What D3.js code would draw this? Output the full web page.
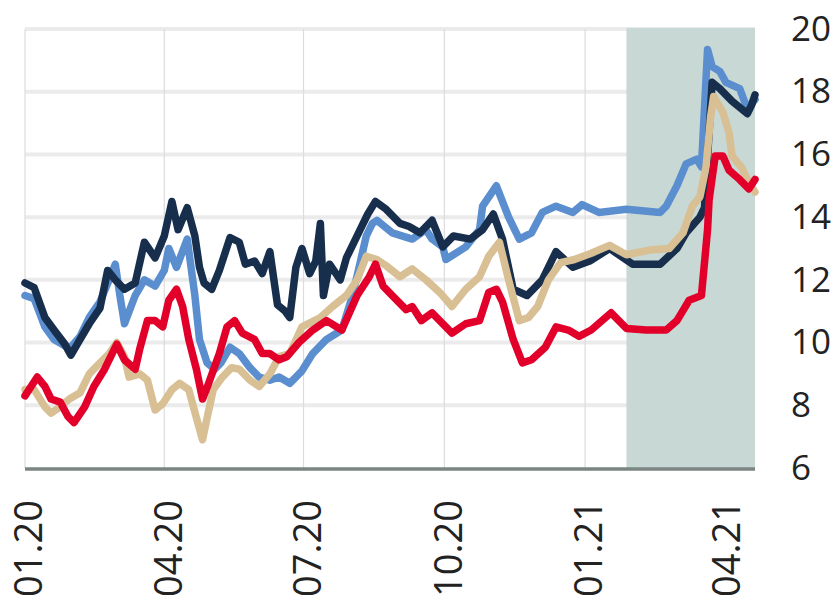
<!DOCTYPE html>
<html>
<head>
<meta charset="utf-8">
<script src="https://cdn.jsdelivr.net/npm/d3@7"></script>
<style>
  body { margin: 0; background: #fff; }
  svg { display: block; }
</style>
</head>
<body>
<svg id="chart" width="837" height="608"></svg>
<script>
// values, [date, value]
var navy = [
  ["2020-01-01", 11.9], ["2020-01-07", 11.75], ["2020-01-14", 10.8], ["2020-01-20", 10.4],
  ["2020-01-27", 9.95], ["2020-01-31", 9.6], ["2020-02-06", 10.1], ["2020-02-12", 10.6],
  ["2020-02-19", 11.1], ["2020-02-24", 12.3], ["2020-02-29", 12.0], ["2020-03-06", 11.7],
  ["2020-03-13", 11.9], ["2020-03-19", 13.2], ["2020-03-26", 12.7], ["2020-04-01", 13.4],
  ["2020-04-06", 14.5], ["2020-04-10", 13.6], ["2020-04-16", 14.3], ["2020-04-21", 13.4],
  ["2020-04-24", 12.4], ["2020-04-27", 11.9], ["2020-05-02", 11.7], ["2020-05-07", 12.3],
  ["2020-05-14", 13.35], ["2020-05-20", 13.2], ["2020-05-24", 12.5], ["2020-05-30", 12.6],
  ["2020-06-04", 12.2], ["2020-06-09", 12.9], ["2020-06-14", 11.2], ["2020-06-19", 11.0],
  ["2020-06-22", 10.8], ["2020-06-26", 12.4], ["2020-06-30", 13.0], ["2020-07-05", 12.2],
  ["2020-07-09", 12.6], ["2020-07-12", 13.8], ["2020-07-14", 11.5], ["2020-07-18", 12.5],
  ["2020-07-25", 12.0], ["2020-07-29", 12.7], ["2020-08-07", 13.6], ["2020-08-12", 14.1],
  ["2020-08-17", 14.5], ["2020-08-24", 14.25], ["2020-09-02", 13.8], ["2020-09-08", 13.7],
  ["2020-09-15", 13.5], ["2020-09-23", 13.9], ["2020-09-30", 13.05], ["2020-10-07", 13.4],
  ["2020-10-18", 13.3], ["2020-10-26", 13.6], ["2020-11-02", 14.1], ["2020-11-08", 13.3],
  ["2020-11-15", 11.7], ["2020-11-24", 11.5], ["2020-12-04", 12.0], ["2020-12-13", 12.9],
  ["2020-12-24", 12.4], ["2021-01-04", 12.6], ["2021-01-17", 13.0], ["2021-02-01", 12.5],
  ["2021-02-19", 12.5], ["2021-03-02", 13.0], ["2021-03-08", 13.5], ["2021-03-17", 14.0],
  ["2021-03-20", 14.3], ["2021-03-25", 18.3], ["2021-03-30", 18.1], ["2021-04-07", 17.7],
  ["2021-04-17", 17.3], ["2021-04-20", 17.6], ["2021-04-22", 17.9]
];

var blue = [
  ["2020-01-01", 11.5], ["2020-01-07", 11.4], ["2020-01-14", 10.5], ["2020-01-20", 10.1],
  ["2020-01-27", 9.9], ["2020-01-31", 9.85], ["2020-02-06", 10.2], ["2020-02-12", 10.8],
  ["2020-02-19", 11.3], ["2020-02-25", 12.0], ["2020-02-29", 12.5], ["2020-03-03", 11.5],
  ["2020-03-06", 10.6], ["2020-03-13", 11.5], ["2020-03-19", 12.0], ["2020-03-26", 11.8],
  ["2020-04-01", 12.3], ["2020-04-04", 13.0], ["2020-04-09", 12.4], ["2020-04-16", 13.3],
  ["2020-04-21", 11.5], ["2020-04-24", 10.1], ["2020-04-29", 9.35], ["2020-05-04", 9.15],
  ["2020-05-08", 9.35], ["2020-05-14", 9.85], ["2020-05-20", 9.65], ["2020-05-27", 9.2],
  ["2020-06-02", 8.9], ["2020-06-09", 8.8], ["2020-06-15", 8.9], ["2020-06-22", 8.7],
  ["2020-06-30", 9.1], ["2020-07-07", 9.65], ["2020-07-16", 10.1], ["2020-07-26", 10.4],
  ["2020-08-02", 11.5], ["2020-08-07", 12.55], ["2020-08-11", 13.4], ["2020-08-15", 13.8],
  ["2020-08-18", 13.9], ["2020-08-28", 13.5], ["2020-09-10", 13.3], ["2020-09-19", 13.6],
  ["2020-09-23", 13.3], ["2020-09-30", 13.05], ["2020-10-02", 12.65], ["2020-10-15", 13.05],
  ["2020-10-24", 13.6], ["2020-10-26", 14.35], ["2020-11-04", 15.0], ["2020-11-12", 14.0],
  ["2020-11-19", 13.3], ["2020-11-27", 13.5], ["2020-12-04", 14.15], ["2020-12-13", 14.35],
  ["2020-12-24", 14.15], ["2020-12-30", 14.4], ["2021-01-10", 14.15], ["2021-01-28", 14.25],
  ["2021-02-19", 14.15], ["2021-02-23", 14.35], ["2021-03-02", 15.0], ["2021-03-08", 15.7],
  ["2021-03-15", 15.85], ["2021-03-18", 15.6], ["2021-03-22", 19.35], ["2021-03-25", 18.8],
  ["2021-03-30", 18.65], ["2021-04-03", 18.3], ["2021-04-12", 18.1], ["2021-04-17", 17.45],
  ["2021-04-20", 17.65], ["2021-04-22", 17.75]
];

var red = [
  ["2020-01-01", 8.3], ["2020-01-09", 8.9], ["2020-01-14", 8.6], ["2020-01-18", 8.2],
  ["2020-01-24", 8.1], ["2020-01-29", 7.65], ["2020-02-02", 7.45], ["2020-02-09", 7.95],
  ["2020-02-15", 8.6], ["2020-02-22", 9.15], ["2020-03-01", 9.95], ["2020-03-06", 9.45],
  ["2020-03-13", 9.15], ["2020-03-16", 9.8], ["2020-03-21", 10.7], ["2020-03-26", 10.7],
  ["2020-03-31", 10.5], ["2020-04-04", 11.35], ["2020-04-09", 11.7], ["2020-04-13", 11.15],
  ["2020-04-17", 10.1], ["2020-04-22", 9.15], ["2020-04-26", 8.2], ["2020-04-30", 8.7],
  ["2020-05-07", 9.65], ["2020-05-12", 10.5], ["2020-05-17", 10.7], ["2020-05-22", 10.3],
  ["2020-05-30", 10.1], ["2020-06-04", 9.65], ["2020-06-09", 9.65], ["2020-06-15", 9.45],
  ["2020-06-20", 9.55], ["2020-06-28", 10.0], ["2020-07-07", 10.4], ["2020-07-16", 10.7],
  ["2020-07-26", 10.4], ["2020-08-05", 11.5], ["2020-08-13", 12.1], ["2020-08-17", 12.5],
  ["2020-08-22", 11.8], ["2020-08-28", 11.5], ["2020-09-06", 11.05], ["2020-09-10", 11.15],
  ["2020-09-16", 10.7], ["2020-09-23", 10.95], ["2020-10-02", 10.5], ["2020-10-06", 10.3],
  ["2020-10-15", 10.6], ["2020-10-24", 10.7], ["2020-10-30", 11.6], ["2020-11-04", 11.7],
  ["2020-11-08", 11.3], ["2020-11-15", 10.1], ["2020-11-21", 9.35], ["2020-11-27", 9.45],
  ["2020-12-06", 9.85], ["2020-12-13", 10.5], ["2020-12-21", 10.4], ["2020-12-28", 10.2],
  ["2021-01-05", 10.4], ["2021-01-18", 10.95], ["2021-01-28", 10.45], ["2021-02-10", 10.4],
  ["2021-02-23", 10.4], ["2021-03-02", 10.7], ["2021-03-10", 11.35], ["2021-03-18", 11.5],
  ["2021-03-22", 13.6], ["2021-03-23", 14.55], ["2021-03-27", 15.95], ["2021-04-01", 15.95],
  ["2021-04-05", 15.5], ["2021-04-12", 15.2], ["2021-04-18", 14.9], ["2021-04-22", 15.2]
];

var tan = [
  ["2020-01-01", 8.5], ["2020-01-07", 8.5], ["2020-01-14", 7.95], ["2020-01-18", 7.75],
  ["2020-01-24", 7.95], ["2020-01-30", 8.2], ["2020-02-06", 8.4], ["2020-02-12", 9.0],
  ["2020-02-19", 9.35], ["2020-02-25", 9.65], ["2020-03-01", 10.0], ["2020-03-06", 9.55],
  ["2020-03-09", 8.9], ["2020-03-16", 9.0], ["2020-03-21", 8.8], ["2020-03-26", 7.85],
  ["2020-03-31", 8.05], ["2020-04-06", 8.5], ["2020-04-11", 8.7], ["2020-04-17", 8.5],
  ["2020-04-22", 7.6], ["2020-04-26", 6.9], ["2020-04-29", 7.6], ["2020-05-03", 8.5],
  ["2020-05-09", 8.9], ["2020-05-15", 9.2], ["2020-05-20", 9.15], ["2020-05-27", 8.8],
  ["2020-06-02", 8.6], ["2020-06-09", 9.0], ["2020-06-15", 9.55], ["2020-06-22", 9.65],
  ["2020-06-30", 10.5], ["2020-07-12", 10.8], ["2020-07-20", 11.15], ["2020-07-29", 11.5],
  ["2020-08-05", 12.0], ["2020-08-11", 12.75], ["2020-08-18", 12.65], ["2020-08-24", 12.45],
  ["2020-09-02", 12.1], ["2020-09-10", 12.35], ["2020-09-19", 12.0], ["2020-09-28", 11.6],
  ["2020-10-06", 11.15], ["2020-10-15", 11.7], ["2020-10-24", 12.1], ["2020-10-30", 12.75],
  ["2020-11-06", 13.2], ["2020-11-12", 12.0], ["2020-11-19", 10.7], ["2020-11-25", 10.8],
  ["2020-12-01", 11.15], ["2020-12-08", 12.0], ["2020-12-16", 12.55], ["2020-12-25", 12.65],
  ["2021-01-05", 12.85], ["2021-01-17", 13.1], ["2021-01-28", 12.8], ["2021-02-12", 12.95],
  ["2021-02-25", 13.0], ["2021-03-06", 13.5], ["2021-03-12", 14.35], ["2021-03-17", 14.65],
  ["2021-03-21", 15.6], ["2021-03-24", 17.2], ["2021-03-26", 17.85], ["2021-04-01", 17.35],
  ["2021-04-05", 16.7], ["2021-04-07", 15.95], ["2021-04-13", 15.6], ["2021-04-18", 15.1],
  ["2021-04-22", 14.8]
];

var yTicks = [6, 8, 10, 12, 14, 16, 18, 20];
var shadeStart = "2021-01-28";
var dateStart = "2020-01-01", dateEnd = "2021-04-22";

var parse = d3.timeParse("%Y-%m-%d");

var svg = d3.select("#chart");
var plotLeft = 25, plotRight = 755, plotTop = 29, plotBottom = 468;

var x = d3.scaleTime()
  .domain([parse(dateStart), parse(dateEnd)])
  .range([plotLeft, plotRight]);

var y = d3.scaleLinear()
  .domain([6, 20])
  .range([plotBottom, plotTop]);

var xTicks = d3.timeMonth.every(3).range(parse(dateStart), parse(dateEnd));

// horizontal grid
svg.append("g")
  .selectAll("line")
  .data(yTicks.filter(function (d) { return d > 6; }))
  .enter().append("line")
  .attr("x1", plotLeft).attr("x2", plotRight)
  .attr("y1", function (d) { return y(d); })
  .attr("y2", function (d) { return y(d); })
  .attr("stroke", "#ebebeb")
  .attr("stroke-width", 4);

// vertical grid
svg.append("g")
  .selectAll("line")
  .data(xTicks)
  .enter().append("line")
  .attr("x1", function (d) { return x(d); })
  .attr("x2", function (d) { return x(d); })
  .attr("y1", plotTop).attr("y2", plotBottom)
  .attr("stroke", "#dcdcdc")
  .attr("stroke-width", 1.2);

// shaded period
svg.append("rect")
  .attr("x", x(parse(shadeStart)))
  .attr("y", plotTop - 1)
  .attr("width", plotRight - x(parse(shadeStart)))
  .attr("height", plotBottom - plotTop + 1)
  .attr("fill", "#c8d8d4");

// baseline
svg.append("line")
  .attr("x1", plotLeft).attr("x2", plotRight)
  .attr("y1", y(6) + 1).attr("y2", y(6) + 1)
  .attr("stroke", "#7b8683")
  .attr("stroke-width", 3.5);

var line = d3.line()
  .x(function (d) { return x(parse(d[0])); })
  .y(function (d) { return y(d[1]); });

var series = [
  { data: blue, color: "#5b8ecf" },
  { data: navy, color: "#172f4d" },
  { data: tan, color: "#d8bf94" },
  { data: red, color: "#e2002b" }
];

svg.append("g")
  .selectAll("path")
  .data(series)
  .enter().append("path")
  .attr("d", function (d) { return line(d.data); })
  .attr("fill", "none")
  .attr("stroke", function (d) { return d.color; })
  .attr("stroke-width", 7.5)
  .attr("stroke-linejoin", "round")
  .attr("stroke-linecap", "round");

// right axis
var yAxis = svg.append("g")
  .attr("transform", "translate(" + (plotRight + 36) + ",0)")
  .call(d3.axisRight(y).tickValues(yTicks).tickSize(0).tickPadding(0));
yAxis.select(".domain").remove();
yAxis.selectAll("text")
  .attr("font-family", "Open Sans, sans-serif")
  .attr("font-size", 35)
  .attr("fill", "#222");

// bottom axis, labels turned upright
var xAxis = svg.append("g")
  .attr("transform", "translate(0," + (plotBottom + 32) + ")")
  .call(d3.axisBottom(x).tickValues(xTicks).tickSize(0).tickFormat(d3.timeFormat("%m.%y")));
xAxis.select(".domain").remove();
xAxis.selectAll("text")
  .attr("font-family", "Open Sans, sans-serif")
  .attr("font-size", 38)
  .attr("fill", "#222")
  .attr("text-anchor", "end")
  .attr("transform", "rotate(-90)")
  .attr("x", 0)
  .attr("y", 0)
  .attr("dy", "0.44em");
</script>
</body>
</html>
